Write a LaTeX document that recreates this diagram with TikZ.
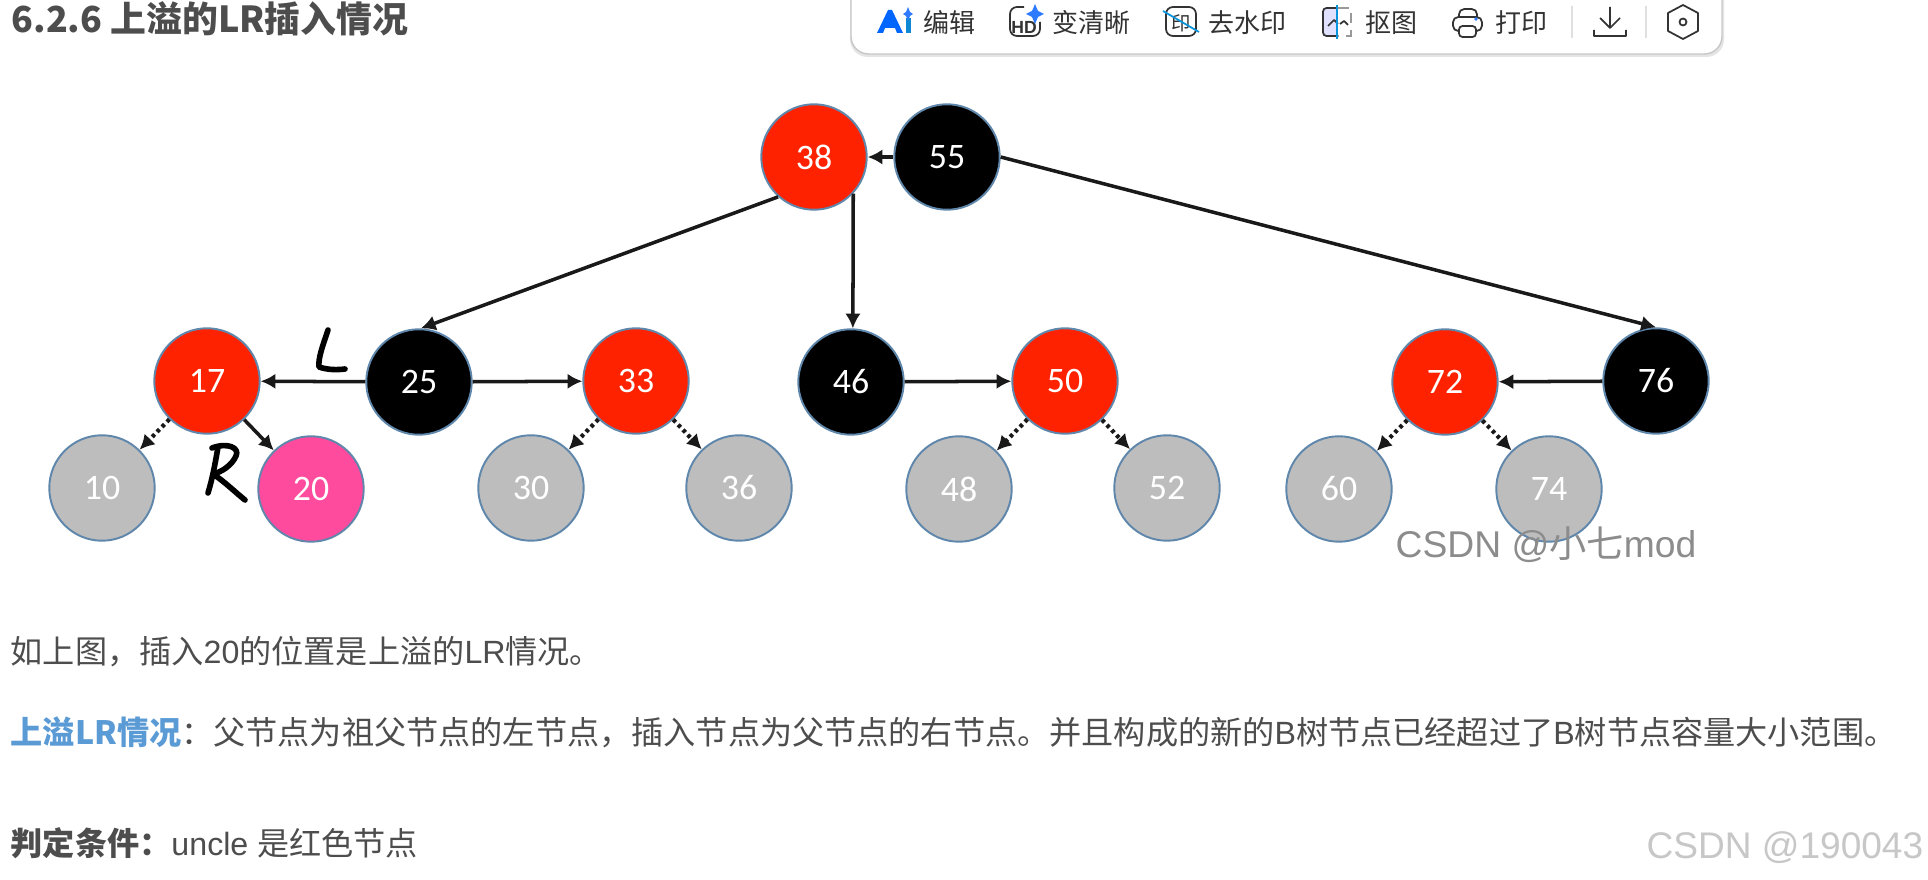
\documentclass[tikz,border=0pt]{standalone}
\usepackage{fontspec}
\setmainfont{Liberation Sans}
\newfontfamily\cjk{Noto Sans CJK SC}
\newfontfamily\calibrifont{Carlito}
\newcommand{\zh}[1]{{\cjk #1}}
\usetikzlibrary{arrows.meta}

\definecolor{textgray}{HTML}{4D4D4D}
\definecolor{linkblue}{HTML}{5B9BD5}
\definecolor{ringblue}{HTML}{5F86AB}
\definecolor{nodered}{HTML}{FF2200}
\definecolor{nodepink}{HTML}{FF4B9E}
\definecolor{nodegray}{HTML}{BDBDBD}
\definecolor{barink}{HTML}{333333}
\definecolor{iconblue}{HTML}{2F7BFF}

\tikzset{
    rbnode/.style={circle, draw=ringblue, line width=0.55pt, minimum size=30pt, inner sep=0pt, text=white, font=\calibrifont\fontsize{10.2}{10}\selectfont},
    rednode/.style={rbnode, fill=nodered},
    blacknode/.style={rbnode, fill=black},
    nilnode/.style={rbnode, fill=nodegray},
    newnode/.style={rbnode, fill=nodepink},
    treeedge/.style={-{Latex[length=4.2pt,width=4.4pt]}, line width=1pt, black!90},
    niledge/.style={treeedge, densely dotted, line width=1.2pt},
    handstroke/.style={line width=1.6pt, line cap=round, line join=round},
    bodytext/.style={anchor=west, inner sep=0pt, text=textgray, font=\fontsize{9.15}{10}\selectfont},
    bartext/.style={anchor=west, inner sep=0pt, text=barink, font=\cjk\fontsize{7.4}{9}\selectfont},
    baricon/.style={barink, line width=0.5pt, line join=round}
}

\begin{document}
\begin{tikzpicture}[x=0.1mm, y=-0.1mm]
    \useasboundingbox (0,0) rectangle (1928,880);
    \fill[white] (0,0) rectangle (1928,880);

    % 标题
    \node[bodytext, font=\cjk\bfseries\fontsize{10.2}{10}\selectfont] (title) at (11,19) {6.2.6 上溢的LR插入情况};

    % 工具栏
    \fill[black!10, rounded corners=5pt] (850,-20) rectangle (1724,57);
    \draw[black!22, line width=0.4pt, fill=white, rounded corners=5pt] (851,-20) rectangle (1722,54);
    \node[bartext] (edittext) at (923,23) {编辑};
    \node[bartext] (cleartext) at (1052,23) {变清晰};
    \node[bartext] (marktext) at (1208,23) {去水印};
    \node[bartext] (cuttext) at (1365,23) {抠图};
    \node[bartext] (printtext) at (1495,23) {打印};
    % 工具栏图标
    \fill[blue!60!cyan, line join=round] (877,33) -- (888,10) -- (892,10) -- (903,33) -- (897,33) -- (895,28) -- (885,28) -- (883,33) -- cycle;
    \fill[cyan!70!blue] (906,18) rectangle (911,33);
    \fill[iconblue] (908,7) -- (910,12) -- (913,14) -- (910,16) -- (908,21) -- (906,16) -- (903,14) -- (906,12) -- cycle;
    \draw[baricon, rounded corners=2pt] (1024,7) -- (1010,7) -- (1010,36) -- (1040,36) -- (1040,22);
    \node[inner sep=0pt, text=barink, font=\bfseries\fontsize{5}{6}\selectfont] (hdicon) at (1024,27) {HD};
    \fill[iconblue] (1035,4) -- (1038,11) -- (1044,14) -- (1038,17) -- (1035,24) -- (1032,17) -- (1026,14) -- (1032,11) -- cycle;
    \draw[baricon, rounded corners=2pt] (1166,7) rectangle (1196,36);
    \node[inner sep=0pt, text=barink, font=\cjk\fontsize{5.5}{6}\selectfont] (markicon) at (1181,23) {印};
    \draw[cyan!80!blue, line width=0.5pt] (1163,11) -- (1199,32);
    \fill[blue!12] (1323,8) rectangle (1336,36);
    \draw[baricon, rounded corners=1pt] (1336,8) -- (1323,8) -- (1323,36) -- (1336,36);
    \draw[black!40, line width=0.5pt, densely dashed] (1338,8) -- (1351,8) -- (1351,36) -- (1338,36);
    \draw[baricon] (1328,26) -- (1334,20) -- (1338,24) (1340,24) -- (1344,21) -- (1348,25);
    \draw[cyan!80!blue, line width=0.5pt] (1337,5) -- (1337,39);
    \draw[baricon, rounded corners=1.5pt] (1459,17) -- (1459,9) -- (1477,9) -- (1477,17);
    \draw[baricon, rounded corners=1.5pt] (1459,31) -- (1453,31) -- (1453,17) -- (1482,17) -- (1482,31) -- (1476,31);
    \draw[baricon, rounded corners=1pt] (1459,26) rectangle (1476,37);
    \fill[iconblue] (1476,19) circle (1.8);
    \draw[black!12, line width=0.4pt] (1572,6) -- (1572,38);
    \draw[baricon] (1610,7) -- (1610,27) (1600,18) -- (1610,28) -- (1620,18) (1594,30) -- (1594,36) -- (1626,36) -- (1626,30);
    \draw[black!12, line width=0.4pt] (1646,6) -- (1646,38);
    \draw[baricon] (1683,5) -- (1698,13) -- (1698,31) -- (1683,39) -- (1668,31) -- (1668,13) -- cycle;
    \draw[baricon] (1683,22) circle (3.5);

    % 树的节点
    \node[rednode] (n38) at (814,157) {38};
    \node[blacknode] (n55) at (947,157) {55};
    \node[rednode] (n17) at (207,381) {17};
    \node[blacknode] (n25) at (419,382) {25};
    \node[rednode] (n33) at (636,381) {33};
    \node[blacknode] (n46) at (851,382) {46};
    \node[rednode] (n50) at (1065,381) {50};
    \node[rednode] (n72) at (1445,382) {72};
    \node[blacknode] (n76) at (1656,381) {76};
    \node[nilnode] (n10) at (102,488) {10};
    \node[newnode] (n20) at (311,489) {20};
    \node[nilnode] (n30) at (531,488) {30};
    \node[nilnode] (n36) at (739,488) {36};
    \node[nilnode] (n48) at (959,489) {48};
    \node[nilnode] (n52) at (1167,488) {52};
    \node[nilnode] (n60) at (1339,489) {60};
    \node[nilnode] (n74) at (1549,489) {74};

    % 实线
    \draw[treeedge] (n55) -- (n38);
    \draw[treeedge] (n38.228) -- (n25.88);
    \draw[treeedge] (n38.-43) -- (n46.88);
    \draw[treeedge] (n55.east) -- (n76.north);
    \draw[treeedge] (n25) -- (n17);
    \draw[treeedge] (n25) -- (n33);
    \draw[treeedge] (n46) -- (n50);
    \draw[treeedge] (n76) -- (n72);
    \draw[treeedge] (n17) -- (n20);

    % 虚线
    \foreach \a/\b in {n17/n10, n33/n30, n33/n36, n50/n48, n50/n52, n72/n60, n72/n74}
        \draw[niledge] (\a) -- (\b);

    % 手写
    \draw[handstroke] (328,330) .. controls (323,345) and (318,358) .. (319,367) .. controls (328,370) and (337,370) .. (345,369);
    \draw[handstroke] (218,447) .. controls (215,465) and (212,480) .. (208,493);
    \draw[handstroke] (212,448) .. controls (228,442) and (240,448) .. (236,456) .. controls (232,465) and (222,472) .. (213,474) .. controls (225,482) and (235,492) .. (245,500);

    % 水印
    \node[inner sep=0pt, text=black!45, font=\fontsize{10.6}{10}\selectfont] (mark1) at (1546,545) {CSDN @\zh{小七}mod};

    % 正文
    \node[bodytext] (line1) at (10,652) {\zh{如上图，插入}20\zh{的位置是上溢的}LR\zh{情况。}};
    \node[bodytext] (line2) at (10,732) {\textcolor{linkblue}{\cjk\bfseries 上溢LR情况}\zh{：父节点为祖父节点的左节点，插入节点为父节点的右节点。并且构成的新的}B\zh{树节点已经超过了}B\zh{树节点容量大小范围。}};
    \node[bodytext] (line3) at (10,843) {{\cjk\bfseries 判定条件：}uncle \zh{是红色节点}};
    \node[anchor=east, inner sep=0pt, text=black!22, font=\fontsize{10.55}{10}\selectfont] (mark2) at (1924,848) {CSDN @190043};
\end{tikzpicture}
\end{document}
